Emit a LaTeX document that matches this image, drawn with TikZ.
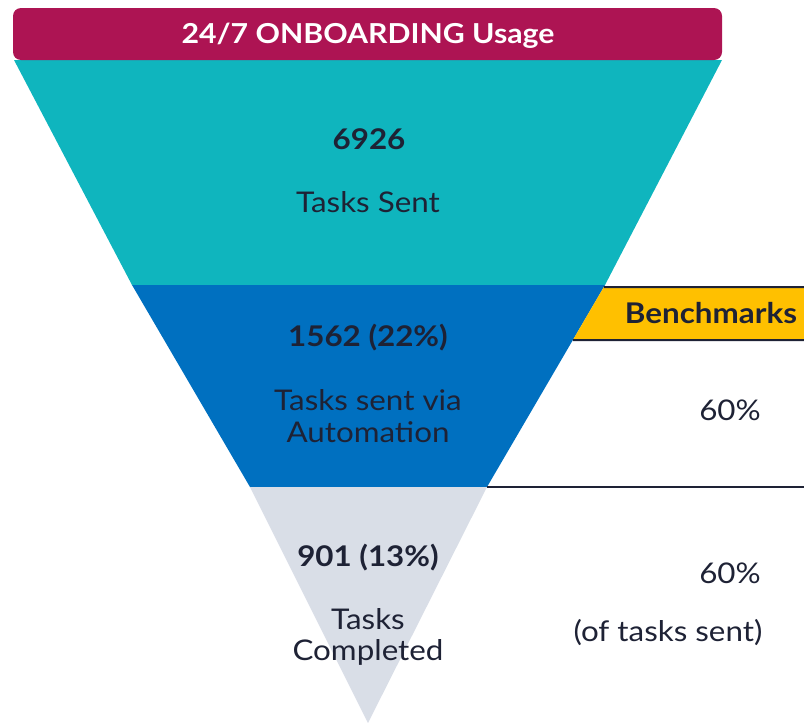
\documentclass[tikz,border=0pt]{standalone}
\usepackage{fontspec}
\setmainfont[FakeStretch=1.1]{Lato}
\usetikzlibrary{calc}
\definecolor{hdr}{HTML}{AD1453}
\definecolor{teal}{HTML}{0FB5BE}
\definecolor{blueband}{HTML}{0070C0}
\definecolor{greyband}{HTML}{D9DEE7}
\definecolor{gold}{HTML}{FFC000}
\definecolor{ink}{HTML}{1E2235}
\tikzset{
  txt/.style={text=ink, font=\fontsize{28.5}{31.5}\selectfont, align=center, inner sep=0pt},
  bold/.style={txt, font=\fontsize{28.5}{31.5}\selectfont\bfseries},
  rule/.style={draw=ink, line width=2pt},
}
\begin{document}
\begin{tikzpicture}[x=1pt, y=-1pt]
\useasboundingbox (0,0) rectangle (804,723);
% funnel corners
\coordinate (L0) at (14,60);
\coordinate (R0) at (722,60);
\coordinate (L1) at (132,285);
\coordinate (R1) at (605,285);
\coordinate (L2) at (250,487);
\coordinate (R2) at (487,487);
\coordinate (tip) at (368,723);
\coordinate (B1) at ($(R1)!0.0099!(R2)$);
\coordinate (B2) at ($(R1)!0.2723!(R2)$);
% bands
\fill[teal] (L0) -- (R0) -- (R1) -- (L1) -- cycle;
\fill[blueband] (L1) -- (R1) -- (R2) -- (L2) -- cycle;
\fill[greyband] (L2) -- (R2) -- (tip) -- cycle;
% benchmark header strip
\fill[gold] (B1) -- (804,287) -- (804,340) -- (B2) -- cycle;
\draw[rule] (B1) -- (804,287);
\draw[rule] (B2) -- (804,340);
\draw[rule] (R2) -- (804,487);
% title bar
\fill[hdr, rounded corners=8pt] (13,8) rectangle (722,60);
\node[text=white, font=\fontsize{27.5}{30}\selectfont\bfseries, inner sep=0pt] (title) at (368,36) {24/7 ONBOARDING Usage};
% band labels
\node[bold] (n1) at (369,139) {6926};
\node[txt] (l1) at (368,202) {Tasks Sent};
\node[bold] (n2) at (368,338) {1562 (22\%)};
\node[txt] (l2) at (368,416) {Tasks sent via\\Automation};
\node[bold] (n3) at (368,558) {901 (13\%)};
\node[txt] (l3) at (368,637) {Tasks\\Completed};
% benchmarks
\node[bold] (bh) at (711,313) {Benchmarks};
\node[txt] (b1) at (730,410) {60\%};
\node[txt] (b2) at (730,573) {60\%};
\node[txt] (b3) at (668,633) {(of tasks sent)};
\end{tikzpicture}
\end{document}
